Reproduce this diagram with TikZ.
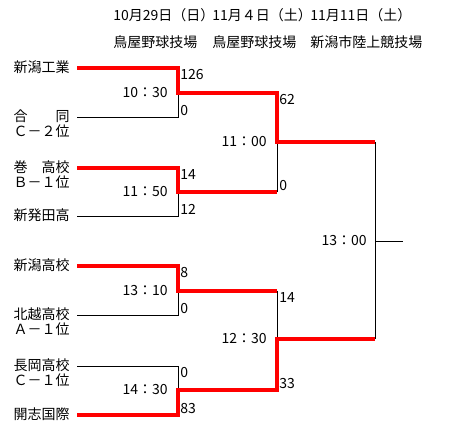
\documentclass[tikz,border=0pt]{standalone}
\usepackage{fontspec}
\setmainfont{Noto Sans CJK JP}
\usetikzlibrary{positioning}

\tikzset{
  team/.style={anchor=east, inner xsep=5.25pt, inner ysep=0pt, text height=8pt, text depth=2pt},
  head/.style={anchor=west, inner sep=0pt, text height=8pt, text depth=2pt},
  score/.style={inner xsep=1.5pt, inner ysep=1pt},
  clock/.style={inner sep=0pt},
  lose/.style={line width=0.75pt},
  win/.style={red, line width=2.6pt, line join=miter}
}

\begin{document}
\begin{tikzpicture}[x=0.75pt, y=-0.75pt, font=\fontsize{10.5}{12}\selectfont]
  \useasboundingbox (0,0) rectangle (475,433);
  \def\xone{178}
  \def\xtwo{277}
  \def\xthree{375}

  % Dates and grounds
  \node[head] (d1) at (113,16) {10月29日（日）};
  \node[head] (d2) at (212,16) {11月４日（土）};
  \node[head] (d3) at (310,16) {11月11日（土）};
  \node[head] (v1) at (113,43) {鳥屋野球技場};
  \node[head] (v2) at (212,43) {鳥屋野球技場};
  \node[head] (v3) at (310,43) {新潟市陸上競技場};

  % Teams
  \node[team] (t1) at (77,68) {新潟工業};
  \node[team] (t2) at (77,117) {合　　同};
  \node[team, below=1.25pt of t2.south east, anchor=north east] (t2b) {Ｃ－２位};
  \node[team] (t3) at (77,168) {巻　高校};
  \node[team, below=1.25pt of t3.south east, anchor=north east] (t3b) {Ｂ－１位};
  \node[team] (t4) at (77,216) {新発田高};
  \node[team] (t5) at (77,266) {新潟高校};
  \node[team] (t6) at (77,315) {北越高校};
  \node[team, below=1.25pt of t6.south east, anchor=north east] (t6b) {Ａ－１位};
  \node[team] (t7) at (77,366) {長岡高校};
  \node[team, below=1.25pt of t7.south east, anchor=north east] (t7b) {Ｃ－１位};
  \node[team] (t8) at (77,415) {開志国際};

  % Match points
  \coordinate (m1) at (\xone,93);
  \coordinate (m2) at (\xone,192);
  \coordinate (m3) at (\xone,291);
  \coordinate (m4) at (\xone,390);
  \coordinate (s1) at (\xtwo,142);
  \coordinate (s2) at (\xtwo,339);
  \coordinate (f) at (\xthree,241);
  \coordinate (out) at (403,241);

  % Draw the losing lines
  \draw[lose] (t2.east) -| (m1);
  \draw[lose] (t4.east) -| (m2);
  \draw[lose] (t6.east) -| (m3);
  \draw[lose] (t7.east) -| (m4);
  \draw[lose] (m2 -| s1) -- (s1);
  \draw[lose] (m3 -| s2) -- (s2);
  \draw[lose] (s1 -| f) -- (s2 -| f);
  \draw[lose] (f) -- (out);

  % Draw the winning lines
  \draw[win] (t1.east) -| (m1) -| (s1) -- (s1 -| f);
  \draw[win] (t3.east) -| (m2) -- (m2 -| s1);
  \draw[win] (t5.east) -| (m3) -- (m3 -| s2);
  \draw[win] (t8.east) -| (m4) -| (s2) -- (s2 -| f);

  % Scores
  \node[score, anchor=north west] (p1) at (t1 -| m1) {126};
  \node[score, anchor=south west] (p2) at (t2 -| m1) {0};
  \node[score, anchor=north west] (p3) at (t3 -| m2) {14};
  \node[score, anchor=south west] (p4) at (t4 -| m2) {12};
  \node[score, anchor=north west] (p5) at (t5 -| m3) {8};
  \node[score, anchor=south west] (p6) at (t6 -| m3) {0};
  \node[score, anchor=north west] (p7) at (t7 -| m4) {0};
  \node[score, anchor=south west] (p8) at (t8 -| m4) {83};
  \node[score, anchor=north west] (q1) at (m1 -| s1) {62};
  \node[score, anchor=south west] (q2) at (m2 -| s1) {0};
  \node[score, anchor=north west] (q3) at (m3 -| s2) {14};
  \node[score, anchor=south west] (q4) at (m4 -| s2) {33};

  % Start times
  \node[clock, left=7.5pt of m1] (c1) {10：30};
  \node[clock, left=7.5pt of m2] (c2) {11：50};
  \node[clock, left=7.5pt of m3] (c3) {13：10};
  \node[clock, left=7.5pt of m4] (c4) {14：30};
  \node[clock, left=7.5pt of s1] (c5) {11：00};
  \node[clock, left=7.5pt of s2] (c6) {12：30};
  \node[clock, left=6pt of f] (c7) {13：00};
\end{tikzpicture}
\end{document}
